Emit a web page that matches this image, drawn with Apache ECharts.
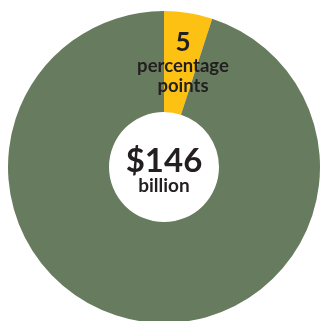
<!DOCTYPE html>
<html><head><meta charset="utf-8">
<script src="https://cdn.jsdelivr.net/npm/echarts@6/dist/echarts.min.js"></script>
<style>html,body{margin:0;padding:0;background:#fff}#c{width:320px;height:321px}</style>
</head><body><div id="c"></div>
<script>
const categories = ['Increase', 'Base'];
const values = [5, 95];
const colors = ['#FDC113', '#677C5E'];
const sliceLabels = ['5', ''];
const centerValue = '$146';
const centerUnit = 'billion';

const chart = echarts.init(document.getElementById('c'), null, {renderer: 'canvas'});
chart.setOption({
  animation: false,
  series: [{
    type: 'pie',
    center: [164, 167],
    radius: [55, 156],
    startAngle: 90,
    clockwise: true,
    silent: true,
    label: {
      show: true,
      position: 'inside',
      offset: [2, 3],
      formatter: p => p.dataIndex === 0 ? '{n|' + sliceLabels[0] + '}\n{t|percentage}\n{t|points}' : '',
      rich: {
        n: {fontFamily: 'Lato', fontWeight: 'bold', fontSize: 26, color: '#231F20', lineHeight: 27, align: 'center'},
        t: {fontFamily: 'Lato', fontWeight: 'bold', fontSize: 18.5, color: '#231F20', lineHeight: 20, align: 'center'}
      }
    },
    labelLine: {show: false},
    data: categories.map((c, i) => ({name: c, value: values[i], itemStyle: {color: colors[i]}}))
  }],
  graphic: [
    {type: 'text', x: 164, y: 161, style: {text: centerValue, textAlign: 'center', textVerticalAlign: 'middle', fontFamily: 'Lato', fontWeight: 'bold', fontSize: 33, fill: '#231F20'}},
    {type: 'text', x: 164, y: 186, style: {text: centerUnit, textAlign: 'center', textVerticalAlign: 'middle', fontFamily: 'Lato', fontWeight: 'bold', fontSize: 19, fill: '#231F20'}}
  ]
});
</script></body></html>
